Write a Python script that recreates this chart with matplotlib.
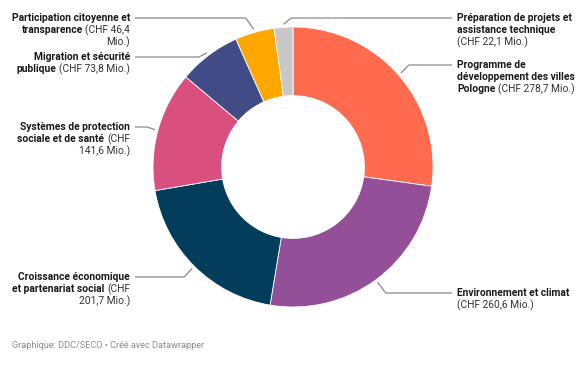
import numpy as np
import matplotlib
matplotlib.use("Agg")
import matplotlib.pyplot as plt

# ---------------------------------------------------------------------------
# Data (CHF millions), clockwise from 12 o'clock
# ---------------------------------------------------------------------------
categories = [
    "Programme de développement des villes Pologne",
    "Environnement et climat",
    "Croissance économique et partenariat social",
    "Systèmes de protection sociale et de santé",
    "Migration et sécurité publique",
    "Participation citoyenne et transparence",
    "Préparation de projets et assistance technique",
]
values = [278.7, 260.6, 201.7, 141.6, 73.8, 46.4, 22.1]
colors = ["#ff6b4f", "#934f98", "#023d5b", "#d9507f", "#414c86", "#ffa600", "#c8c8c8"]

# label text, "**" toggles bold
label_rows = [
    ["**Programme de", "**développement des villes", "**Pologne** (CHF 278,7 Mio.)"],
    ["**Environnement et climat", "(CHF 260,6 Mio.)"],
    ["**Croissance économique", "**et partenariat social** (CHF", "201,7 Mio.)"],
    ["**Systèmes de protection", "**sociale et de santé** (CHF", "141,6 Mio.)"],
    ["**Migration et sécurité", "**publique** (CHF 73,8 Mio.)"],
    ["**Participation citoyenne et", "**transparence** (CHF 46,4", "Mio.)"],
    ["**Préparation de projets et", "**assistance technique", "(CHF 22,1 Mio.)"],
]
# label placement: side (+1 right / -1 left), y of first line in pixels from top
label_side = [1, 1, -1, -1, -1, -1, 1]
label_top = [65, 293, 277, 127, 57, 18, 18]

W, H = 588, 368
CX, CY, R = 293, 167, 140
FS = 7.35
LINE_H = 12.2

plt.rcParams["font.family"] = ["Roboto", "DejaVu Sans"]

fig = plt.figure(figsize=(W / 100, H / 100), dpi=100)
ax = fig.add_axes([0, 0, 1, 1])
ax.axis("off")

ax.pie(values, colors=colors, startangle=90, counterclock=False,
       center=(CX, H - CY), radius=R,
       wedgeprops=dict(width=R * 0.49, edgecolor="white", linewidth=0.6))
ax.set_xlim(0, W)
ax.set_ylim(0, H)
ax.set_aspect("auto")

renderer = fig.canvas.get_renderer()
SPACE = FS * 0.25 * 100 / 72  # approx width of a space in pixels


def draw_label(x, y_px, rows, side):
    for i, row in enumerate(rows):
        yy = H - (y_px + i * LINE_H)
        parts = row.split("**")
        segs = [(p.strip(), k % 2 == 1) for k, p in enumerate(parts) if p.strip()]
        cx = x
        if side < 0:
            segs = segs[::-1]
        for txt, bold in segs:
            t = ax.text(cx, yy, txt, ha="left" if side > 0 else "right", va="center",
                        fontsize=FS, fontweight="bold" if bold else "normal",
                        color="#1a1a1a" if bold else "#333333")
            w = t.get_window_extent(renderer).width
            cx += side * (w + SPACE)


total = sum(values)
start = 0.0
for val, rows, side, ly in zip(values, label_rows, label_side, label_top):
    mid = np.radians((start + val / 2) / total * 360)
    start += val
    ax_x = CX + 143 * np.sin(mid)
    ax_y = CY - 143 * np.cos(mid)
    elbow_x = ax_x + side * 8
    end_x = 452 if side > 0 else 135
    ax.plot([ax_x, elbow_x, end_x], [H - ax_y, H - ly, H - ly],
            color="#8a8a8a", lw=0.9, solid_capstyle="butt")
    draw_label(457 if side > 0 else 130, ly, rows, side)

ax.text(12, H - 345, "Graphique: DDC/SECO • Créé avec Datawrapper",
        fontsize=6.6, color="#8c8c8c", ha="left", va="center")

fig.savefig("out.png", dpi=100)
